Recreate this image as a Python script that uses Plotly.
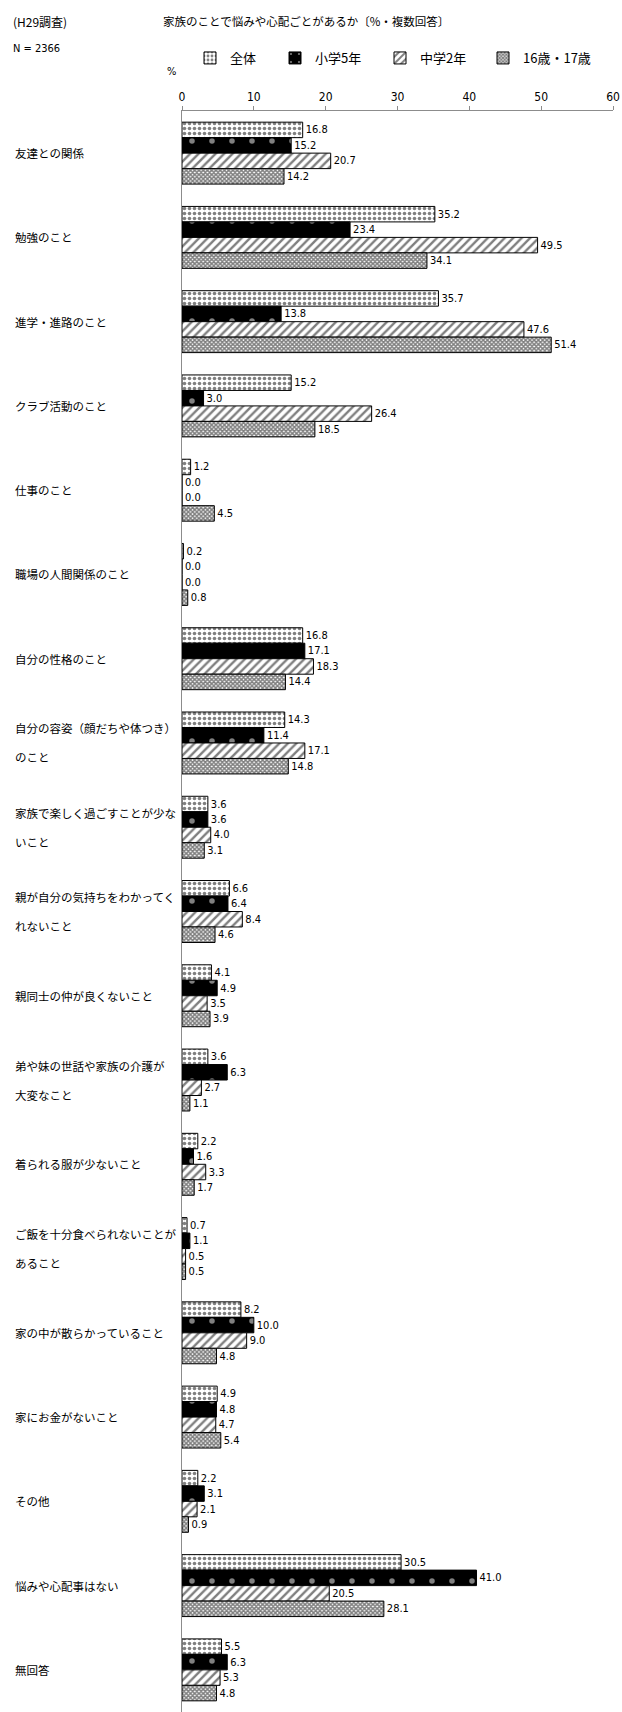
import plotly.graph_objects as go

# ---------------- data ----------------
categories = [
    "友達との関係", "勉強のこと", "進学・進路のこと", "クラブ活動のこと", "仕事のこと",
    "職場の人間関係のこと", "自分の性格のこと", "自分の容姿（顔だちや体つき）\nのこと",
    "家族で楽しく過ごすことが少な\nいこと", "親が自分の気持ちをわかってく\nれないこと",
    "親同士の仲が良くないこと", "弟や妹の世話や家族の介護が\n大変なこと", "着られる服が少ないこと",
    "ご飯を十分食べられないことが\nあること", "家の中が散らかっていること", "家にお金がないこと",
    "その他", "悩みや心配事はない", "無回答",
]
series_names = ["全体", "小学5年", "中学2年", "16歳・17歳"]
zentai = [16.8, 35.2, 35.7, 15.2, 1.2, 0.2, 16.8, 14.3, 3.6, 6.6, 4.1, 3.6, 2.2, 0.7, 8.2, 4.9, 2.2, 30.5, 5.5]
sho5 = [15.2, 23.4, 13.8, 3.0, 0.0, 0.0, 17.1, 11.4, 3.6, 6.4, 4.9, 6.3, 1.6, 1.1, 10.0, 4.8, 3.1, 41.0, 6.3]
chu2 = [20.7, 49.5, 47.6, 26.4, 0.0, 0.0, 18.3, 17.1, 4.0, 8.4, 3.5, 2.7, 3.3, 0.5, 9.0, 4.7, 2.1, 20.5, 5.3]
age1617 = [14.2, 34.1, 51.4, 18.5, 4.5, 0.8, 14.4, 14.8, 3.1, 4.6, 3.9, 1.1, 1.7, 0.5, 4.8, 5.4, 0.9, 28.1, 4.8]
x_ticks = [0, 10, 20, 30, 40, 50, 60]

title_text = "家族のことで悩みや心配ごとがあるか〔%・複数回答〕"
survey_text = "(H29調査)"
n_text = "N = 2366"

# ---------------- layout constants ----------------
W, H = 622, 1712
ML, MR, MT, MB = 182, 9, 111, 0
PW, PH = W - ML - MR, H - MT - MB

def pxx(x):
    return (x - ML) / PW

def pxy(y):
    return (H - MB - y) / PH

JP = "Noto Sans CJK JP, sans-serif"
NARROW = "Liberation Sans Narrow, Arial Narrow, DejaVu Sans Condensed, Noto Sans CJK JP, sans-serif"

cat_keys = [c.replace("\n", "") for c in categories]

patterns = [
    dict(color="white", pattern=dict(shape=".", fgcolor="black", bgcolor="white", size=5, solidity=0.4)),
    dict(color="black", pattern=dict(shape=".", fgcolor="white", bgcolor="black", size=20, solidity=0.06)),
    dict(color="white", pattern=dict(shape="/", fgcolor="black", bgcolor="white", size=6, solidity=0.4)),
    dict(color="white", pattern=dict(shape="x", fgcolor="black", bgcolor="white", size=3, solidity=0.75)),
]
values = [zentai, sho5, chu2, age1617]
legend_ids = ["legend", "legend2", "legend3", "legend4"]

fig = go.Figure()
for name, vals, pat, lg in zip(series_names, values, patterns, legend_ids):
    fig.add_trace(go.Bar(
        y=cat_keys, x=vals, name=name, orientation="h",
        marker=dict(color=pat["color"], pattern=pat["pattern"], line=dict(color="black", width=1)),
        texttemplate="%{x:.1f}", textposition="outside", constraintext="none",
        textfont=dict(family=NARROW, size=11, color="black"),
        cliponaxis=False, legend=lg,
    ))

# legends, each placed on its own (paper coordinates, inside the top margin)
legend_text_x = [230, 315, 420, 523]
legend_common = dict(orientation="h", xref="paper", yref="paper", xanchor="left",
                     yanchor="middle", y=pxy(58), bgcolor="rgba(0,0,0,0)", borderwidth=0,
                     font=dict(family=JP, size=13, color="black"), itemwidth=30)
legend_layout = {}
for lg, tx in zip(legend_ids, legend_text_x):
    legend_layout[lg] = dict(legend_common, x=pxx(tx - 40))

annotations = []
# category labels, left aligned
for c, key in zip(categories, cat_keys):
    lines = c.split("\n")
    if len(lines) == 1:
        annotations.append(dict(x=pxx(13), y=key, xref="paper", yref="y", text=lines[0],
                                showarrow=False, xanchor="left", yanchor="middle",
                                font=dict(family=JP, size=11.5, color="black")))
    else:
        for i, ln in enumerate(lines):
            annotations.append(dict(x=pxx(13), y=key, xref="paper", yref="y", text=ln,
                                    showarrow=False, xanchor="left", yanchor="middle",
                                    yshift=14.5 if i == 0 else -14.5,
                                    font=dict(family=JP, size=11.5, color="black")))

annotations += [
    dict(x=pxx(11), y=pxy(21), xref="paper", yref="paper", text=survey_text, showarrow=False,
         xanchor="left", yanchor="middle", font=dict(family=JP, size=12, color="black")),
    dict(x=pxx(11), y=pxy(49), xref="paper", yref="paper", text=n_text, showarrow=False,
         xanchor="left", yanchor="middle", font=dict(family=NARROW, size=11, color="black")),
    dict(x=pxx(161), y=pxy(21), xref="paper", yref="paper", text=title_text, showarrow=False,
         xanchor="left", yanchor="middle", font=dict(family=JP, size=11.5, color="black")),
    dict(x=pxx(165), y=pxy(71), xref="paper", yref="paper", text="%", showarrow=False,
         xanchor="left", yanchor="middle", font=dict(family=NARROW, size=11, color="black")),
]

fig.update_layout(
    width=W, height=H,
    margin=dict(l=ML, r=MR, t=MT, b=MB, pad=0, autoexpand=False),
    paper_bgcolor="white", plot_bgcolor="white",
    barmode="group", bargap=0.265, bargroupgap=0,
    showlegend=True,
    annotations=annotations,
    xaxis=dict(side="top", range=[0, 60], tickvals=x_ticks, ticktext=[str(t) for t in x_ticks],
               showgrid=False, zeroline=False, showline=True, linecolor="#8c8c8c", linewidth=1,
               ticks="outside", ticklen=4, tickcolor="#8c8c8c", tickwidth=1,
               tickfont=dict(family=NARROW, size=12, color="black"), fixedrange=True,
               automargin=False, ticklabeloverflow="allow"),
    yaxis=dict(type="category", categoryorder="array", categoryarray=cat_keys, autorange="reversed",
               showticklabels=False, showgrid=False, zeroline=False, showline=True,
               linecolor="#8c8c8c", linewidth=1, ticks="", fixedrange=True, automargin=False),
    **legend_layout,
)

fig.write_html("out.html", config={"displayModeBar": False},
               post_script="document.body.style.margin='0';document.body.style.padding='0';")
